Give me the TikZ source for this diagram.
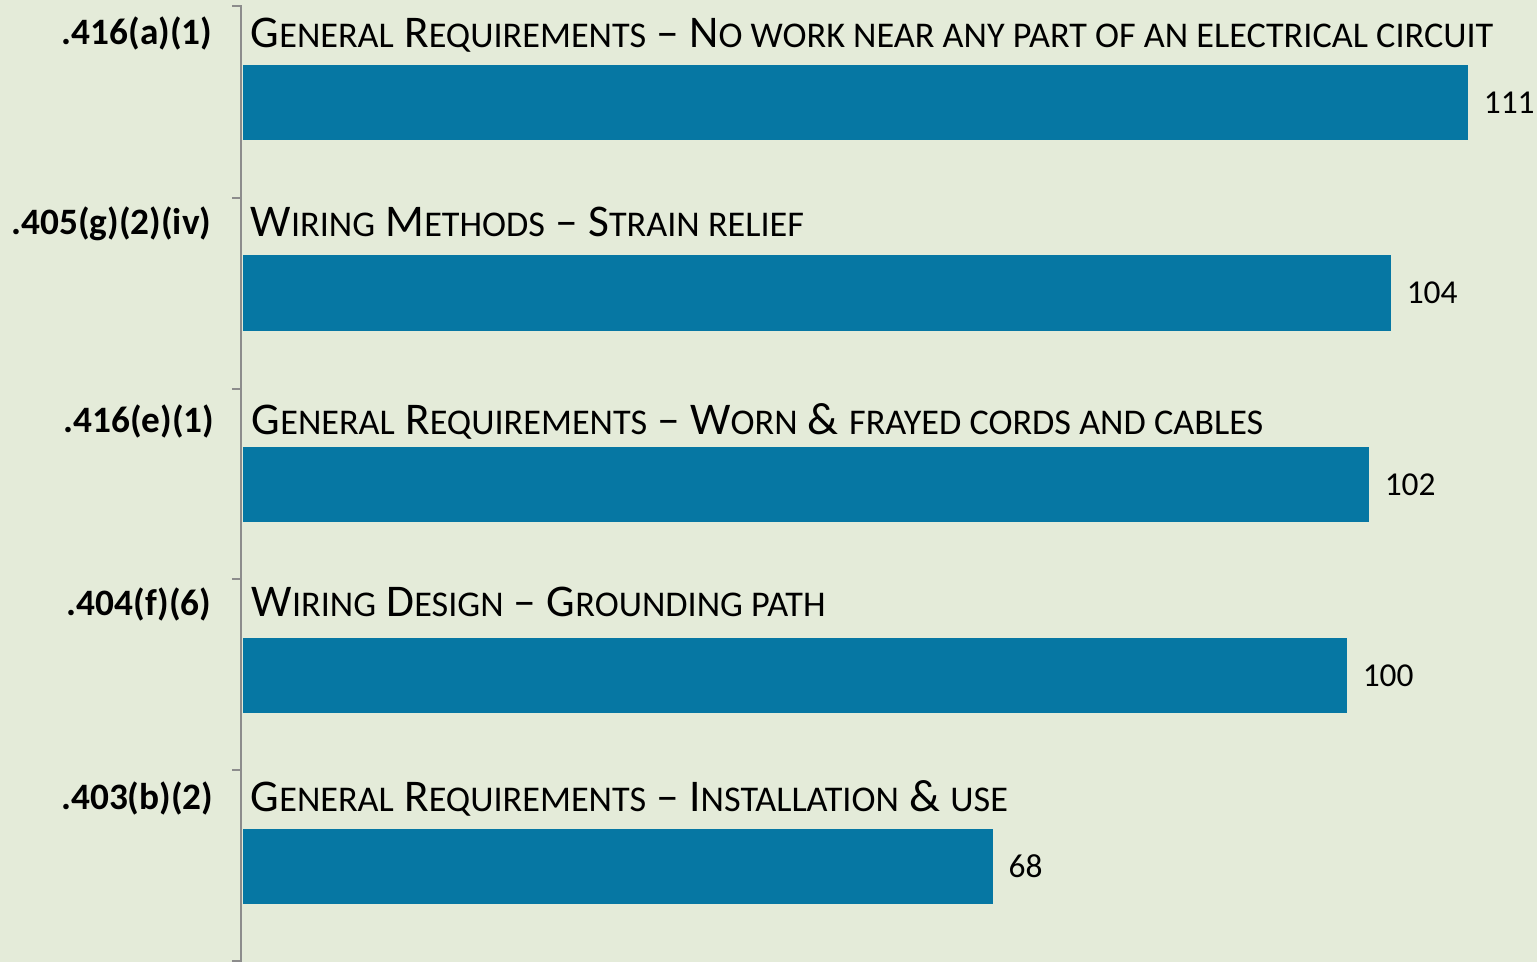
\documentclass[tikz,border=0pt]{standalone}
\usepackage{fontspec}
\setmainfont{Carlito}
\usetikzlibrary{positioning}
\definecolor{chartbg}{HTML}{E4EBD9}
\definecolor{barblue}{HTML}{0677A3}
\definecolor{axisgray}{HTML}{8C8C8C}
% small capitals by hand (Carlito has none)
\newcommand\lowcaps[1]{{\fontsize{10.3}{12}\selectfont #1}}

\begin{document}
\begin{tikzpicture}[x=0.01cm,y=-0.01cm,
    bar/.style={fill=barblue,draw=none,inner sep=0,minimum height=0.75cm,anchor=west},
    code/.style={font=\fontsize{10.6}{12}\selectfont\bfseries,anchor=base east,inner sep=0},
    title/.style={font=\fontsize{12.9}{14}\selectfont,anchor=base west,inner sep=0},
    value/.style={font=\fontsize{9.5}{11}\selectfont,inner sep=0}]
    % Background
    \useasboundingbox (0,0) rectangle (1537,962);
    \fill[chartbg] (0,0) rectangle (1537,962);

    % Axis
    \draw[axisgray,line width=0.7pt] (232,6) -- (241,6) -- (241,962);
    \draw[axisgray,line width=0.7pt] (232,198) -- (241,198);
    \draw[axisgray,line width=0.7pt] (232,389) -- (241,389);
    \draw[axisgray,line width=0.7pt] (232,579) -- (241,579);
    \draw[axisgray,line width=0.7pt] (232,770) -- (241,770);
    \draw[axisgray,line width=0.7pt] (232,961) -- (241,961);

    % Bars
    \node[bar,minimum width=12.25cm] (bar1) at (242,102.5) {};
    \node[bar,minimum width=11.48cm] (bar2) at (242,293) {};
    \node[bar,minimum width=11.26cm] (bar3) at (242,484.5) {};
    \node[bar,minimum width=11.04cm] (bar4) at (242,675.5) {};
    \node[bar,minimum width=7.50cm] (bar5) at (242,866.5) {};

    % Values
    \node[value,right=0.14cm of bar1] (val1) {111};
    \node[value,right=0.14cm of bar2] (val2) {104};
    \node[value,right=0.14cm of bar3] (val3) {102};
    \node[value,right=0.14cm of bar4] (val4) {100};
    \node[value,right=0.14cm of bar5] (val5) {68};

    % Titles
    \node[title] (title1) at (250,48) {G\lowcaps{ENERAL} R\lowcaps{EQUIREMENTS} – N\lowcaps{O WORK NEAR ANY PART OF AN ELECTRICAL CIRCUIT}};
    \node[title] (title2) at (250,237) {W\lowcaps{IRING} M\lowcaps{ETHODS} – S\lowcaps{TRAIN RELIEF}};
    \node[title] (title3) at (251,435) {G\lowcaps{ENERAL} R\lowcaps{EQUIREMENTS} – W\lowcaps{ORN} \& \lowcaps{FRAYED CORDS AND CABLES}};
    \node[title] (title4) at (251,617) {W\lowcaps{IRING} D\lowcaps{ESIGN} – G\lowcaps{ROUNDING PATH}};
    \node[title] (title5) at (250,812) {G\lowcaps{ENERAL} R\lowcaps{EQUIREMENTS} – I\lowcaps{NSTALLATION} \& \lowcaps{USE}};

    % Codes
    \node[code] (code1) at (213,45) {.416(a)(1)};
    \node[code] (code2) at (212,235) {.405(g)(2)(iv)};
    \node[code] (code3) at (215,433) {.416(e)(1)};
    \node[code] (code4) at (212,616) {.404(f)(6)};
    \node[code] (code5) at (214,810) {.403(b)(2)};
  \end{tikzpicture}
\end{document}
